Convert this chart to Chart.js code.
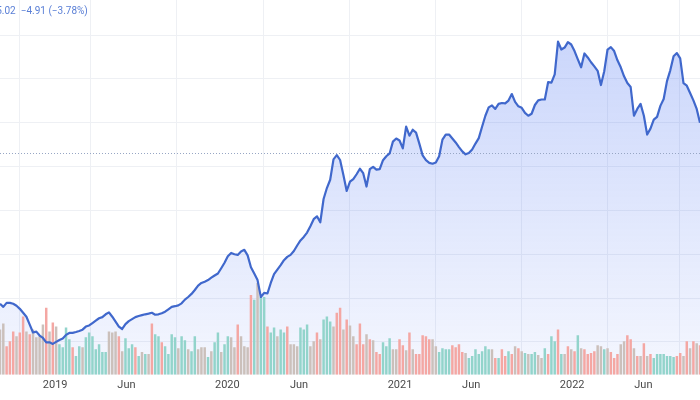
<!DOCTYPE html>
<html>
<head>
<meta charset="utf-8">
<script src="https://cdn.jsdelivr.net/npm/chart.js@4.4.1/dist/chart.umd.min.js"></script>
<style>
  body { margin: 0; background: #fff; }
  #wrap { position: relative; width: 700px; height: 400px; overflow: hidden; }
  #legend { position: absolute; left: -15px; top: 5px; font: 10px Roboto, sans-serif; color: #5a7fd6; white-space: pre; }
</style>
</head>
<body>
<div id="wrap">
  <canvas id="priceChart" width="700" height="400"></canvas>
  <div id="legend">125.02  −4.91 (−3.78%)</div>
</div>
<script>
// weekly closes, first week starting 2018-09-06
const startDate = '2018-09-06';

const priceClose = [
  42.4, 41.0, 42.8, 42.8, 42.4, 41.5, 40.1, 38.3, 36.5, 32.9,
  29.3, 29.7, 27.9, 26.8, 24.8, 24.8, 24.1, 25.0, 25.9, 26.6,
  28.2, 29.1, 29.1, 29.5, 30.0, 30.6, 32.0, 32.5, 33.6, 34.7,
  35.8, 36.3, 37.6, 38.5, 36.5, 34.3, 32.0, 30.9, 33.1, 34.5,
  35.4, 36.3, 36.8, 37.2, 37.6, 37.9, 38.3, 37.4, 37.6, 38.1,
  38.8, 39.9, 41.0, 41.3, 41.7, 42.6, 44.3, 45.5, 46.9, 48.7,
  50.7, 51.9, 52.5, 53.2, 54.3, 55.3, 56.2, 58.6, 61.1, 64.1,
  65.6, 65.0, 64.7, 66.3, 67.0, 64.5, 59.1, 56.2, 53.2, 45.5,
  47.4, 47.1, 51.9, 55.9, 58.0, 60.0, 62.3, 63.8, 64.7, 66.5,
  69.0, 71.3, 72.9, 74.9, 77.8, 81.0, 82.3, 79.6, 90.2, 95.2,
  99.0, 108.3, 110.2, 108.0, 101.2, 93.9, 98.1, 99.3, 101.5, 104.0,
  102.0, 95.9, 103.8, 104.9, 103.6, 103.8, 107.9, 109.7, 111.0, 116.4,
  117.8, 116.9, 113.3, 123.2, 119.1, 121.8, 120.5, 115.5, 110.1, 107.9,
  106.7, 106.3, 106.9, 109.7, 117.3, 119.6, 119.6, 117.8, 116.0, 113.9,
  111.9, 110.6, 111.2, 112.8, 115.5, 118.0, 123.2, 128.2, 132.0, 132.9,
  131.3, 133.6, 134.0, 133.8, 135.1, 138.1, 134.5, 132.5, 131.8, 129.5,
  128.2, 129.1, 133.1, 135.2, 135.6, 135.6, 143.5, 143.3, 147.1, 162.0,
  158.4, 159.3, 161.8, 160.7, 157.7, 153.9, 150.3, 156.6, 154.8, 152.6,
  150.7, 148.7, 142.2, 148.5, 158.4, 159.5, 157.7, 153.5, 150.3, 146.2,
  143.1, 141.3, 128.2, 131.3, 133.6, 128.2, 119.6, 122.3, 126.4, 127.7,
  132.7, 135.8, 144.0, 148.9, 155.3, 156.8, 154.4, 143.1, 141.9, 138.6,
  135.2, 131.3, 125.02
];

// weekly volume, millions
const volume = [
  92, 104, 58, 68, 88, 78, 86, 118, 88, 82,
  92, 76, 78, 102, 136, 88, 106, 98, 62, 56,
  96, 72, 56, 38, 58, 56, 76, 86, 78, 52,
  62, 46, 46, 88, 86, 88, 78, 48, 74, 54,
  62, 56, 38, 46, 42, 42, 104, 82, 78, 66,
  58, 42, 82, 76, 54, 78, 70, 52, 48, 78,
  52, 56, 56, 36, 48, 66, 86, 46, 62, 78,
  76, 56, 102, 78, 58, 56, 162, 152, 186, 158,
  158, 98, 86, 96, 78, 92, 86, 98, 62, 62,
  58, 96, 92, 102, 58, 68, 86, 72, 112, 118,
  108, 98, 126, 136, 92, 112, 100, 78, 62, 104,
  62, 82, 72, 70, 46, 42, 66, 58, 74, 52,
  52, 72, 60, 50, 86, 52, 42, 42, 80, 78,
  72, 72, 58, 46, 54, 52, 52, 60, 56, 62,
  46, 44, 34, 38, 52, 42, 48, 58, 52, 52,
  34, 34, 52, 38, 48, 42, 58, 54, 48, 44,
  42, 42, 46, 40, 34, 54, 42, 78, 68, 92,
  42, 42, 58, 52, 48, 80, 54, 52, 42, 44,
  48, 60, 58, 52, 54, 46, 34, 42, 62, 68,
  80, 72, 54, 38, 38, 64, 38, 42, 34, 42,
  42, 42, 38, 38, 36, 38, 44, 38, 68, 54,
  68, 64, 60
];

// 1 = up week, -1 = down week, 0 = flat
const volDir = [
  0, 0, -1, -1, -1, 0, -1, -1, 0, -1,
  0, 0, 0, 0, -1, 0, -1, 0, 1, 1,
  1, 1, -1, 1, 1, 0, 1, 1, 1, 1,
  1, 1, 1, 0, 0, 0, -1, 0, 1, 1,
  1, -1, 1, 0, 1, 0, -1, 1, 1, -1,
  1, 1, 1, 1, 0, 1, 1, 0, 1, 1,
  0, 0, 0, 1, 0, 1, 1, 0, 1, 1,
  0, 0, -1, 0, 0, 0, -1, 1, 0, 1,
  1, -1, 1, 1, 0, 1, 1, -1, 0, 0,
  0, 1, 1, 1, 0, 0, -1, 0, 1, 1,
  1, 0, -1, -1, 0, -1, 0, 0, -1, -1,
  -1, 0, -1, 0, -1, -1, 1, 1, 1, 0,
  0, -1, -1, 0, -1, 0, -1, -1, -1, -1,
  -1, 0, 0, 1, 1, 1, 1, -1, -1, -1,
  -1, 0, 1, 1, 1, 1, 1, 1, 1, 0,
  -1, 1, -1, -1, 1, -1, 0, -1, 0, 1,
  0, 1, 1, 0, 0, 1, -1, 1, 1, -1,
  1, 0, -1, 0, -1, 1, 0, -1, -1, -1,
  -1, 0, 0, 1, 0, -1, -1, -1, 0, 0,
  -1, -1, 0, -1, 0, -1, 0, -1, 1, 1,
  1, 1, 1, 1, 1, -1, -1, 0, -1, 0,
  -1, 0, -1
];

const tickDates = ['2019-01-01', '2019-06-01', '2020-01-01', '2020-06-01', '2021-01-01', '2021-06-01', '2022-01-01', '2022-06-01'];
const tickLabels = ['2019', 'Jun', '2020', 'Jun', '2021', 'Jun', '2022', 'Jun'];
const gridPrices = [25, 45, 65, 85, 105, 125, 145, 165];
const prevClose = 111.0;

function weeksFromStart(d) {
  return (new Date(d) - new Date(startDate)) / (7 * 24 * 3600 * 1000);
}

const dirColors = { '1': '#92d4cb', '-1': '#f4a7a3', '0': '#cbc0bb' };

// dotted previous-close line
const refLine = {
  id: 'refLine',
  beforeDatasetsDraw(chart) {
    const { ctx, chartArea, scales } = chart;
    const y = Math.round(scales.y.getPixelForValue(prevClose)) + 0.5;
    ctx.save();
    ctx.strokeStyle = '#97a6c4';
    ctx.lineWidth = 1;
    ctx.setLineDash([1, 2]);
    ctx.beginPath();
    ctx.moveTo(chartArea.left, y);
    ctx.lineTo(chartArea.right, y);
    ctx.stroke();
    ctx.restore();
  }
};

Chart.defaults.font.family = 'Roboto';

const ctx = document.getElementById('priceChart').getContext('2d');
new Chart(ctx, {
  data: {
    datasets: [{
      type: 'line',
      label: 'Close',
      data: priceClose.map((v, i) => ({ x: i, y: v })),
      yAxisID: 'y',
      borderColor: '#4068cc',
      borderWidth: 2.2,
      pointRadius: 0,
      tension: 0,
      borderJoinStyle: 'round',
      fill: 'start',
      backgroundColor: function(context) {
        const area = context.chart.chartArea;
        if (!area) return 'rgba(41, 98, 255, 0.15)';
        const g = context.chart.ctx.createLinearGradient(0, area.top, 0, area.bottom);
        g.addColorStop(0, 'rgba(50, 95, 240, 0.28)');
        g.addColorStop(1, 'rgba(50, 95, 240, 0.05)');
        return g;
      },
      order: 0
    }, {
      type: 'bar',
      label: 'Volume',
      data: volume.map((v, i) => ({ x: i, y: v })),
      yAxisID: 'yv',
      backgroundColor: volDir.map(d => dirColors[String(d)]),
      barPercentage: 0.75,
      categoryPercentage: 1,
      order: 1
    }]
  },
  options: {
    responsive: false,
    animation: false,
    layout: { padding: { bottom: 4 } },
    plugins: {
      legend: { display: false },
      tooltip: { enabled: false },
      filler: { drawTime: 'beforeDatasetsDraw' }
    },
    scales: {
      x: {
        type: 'linear',
        min: 0,
        max: priceClose.length - 1,
        offset: false,
        afterBuildTicks: function(axis) {
          axis.ticks = tickDates.map(d => ({ value: weeksFromStart(d) }));
        },
        ticks: {
          autoSkip: false,
          maxRotation: 0,
          padding: 4,
          color: '#4a4a4a',
          font: { size: 11 },
          callback: function(value, index) { return tickLabels[index]; }
        },
        grid: { color: '#eef0f4', drawTicks: false },
        border: { display: false }
      },
      y: {
        min: 10,
        max: 181,
        afterBuildTicks: function(axis) {
          axis.ticks = gridPrices.map(v => ({ value: v }));
        },
        ticks: { display: false },
        grid: { color: '#eef0f4', drawTicks: false },
        border: { display: false }
      },
      yv: {
        display: false,
        min: 0,
        max: 760
      }
    }
  },
  plugins: [refLine]
});
</script>
</body>
</html>
